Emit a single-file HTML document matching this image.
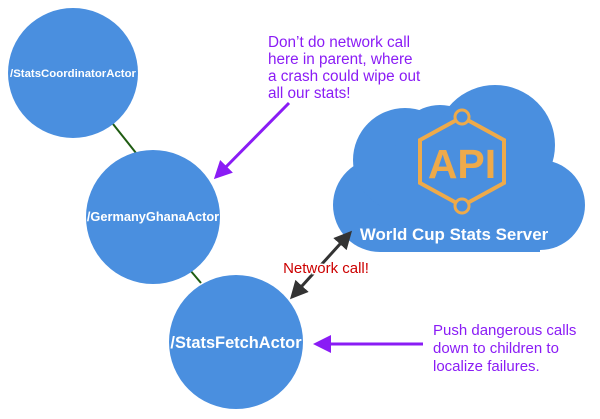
<!DOCTYPE html>
<html><head><meta charset="utf-8"><style>
html,body{margin:0;padding:0;background:#fff;}
svg{display:block;}
text{font-family:"Liberation Sans",sans-serif;}
</style></head><body>
<svg width="600" height="419" viewBox="0 0 600 419">
<defs>
<marker id="pa" markerWidth="6" markerHeight="6" refX="5" refY="3" orient="auto"><path d="M0,0 L6,3 L0,6 Z" fill="#8a1cf5"/></marker>
<marker id="ka" markerWidth="6" markerHeight="6" refX="5" refY="3" orient="auto-start-reverse"><path d="M0,0 L6,3 L0,6 Z" fill="#333"/></marker>
<clipPath id="cc"><rect x="0" y="0" width="600" height="252"/></clipPath>
</defs>
<!-- connectors -->
<line x1="113" y1="124" x2="136" y2="153" stroke="#1f5c12" stroke-width="2"/>
<line x1="190" y1="270" x2="201" y2="283" stroke="#1f5c12" stroke-width="2"/>
<!-- circles -->
<circle cx="73" cy="73" r="65" fill="#4a8fdf"/>
<circle cx="153" cy="217" r="67" fill="#4a8fdf"/>
<circle cx="236" cy="342" r="67" fill="#4a8fdf"/>
<text x="73" y="77" fill="#fff" font-size="11.4" font-weight="bold" text-anchor="middle">/StatsCoordinatorActor</text>
<text x="153" y="221" fill="#fff" font-size="12.8" font-weight="bold" text-anchor="middle">/GermanyGhanaActor</text>
<text x="236" y="348" fill="#fff" font-size="16.4" font-weight="bold" text-anchor="middle">/StatsFetchActor</text>
<!-- cloud -->
<g fill="#4a8fdf" clip-path="url(#cc)">
<circle cx="380" cy="205" r="47"/>
<circle cx="405" cy="160" r="52"/>
<circle cx="440" cy="150" r="45"/>
<circle cx="495" cy="145" r="60"/>
<circle cx="540" cy="205" r="45"/>
<rect x="380" y="150" width="160" height="102"/>
</g>
<g stroke="#eeaa4a" stroke-width="4" fill="none">
<polygon points="462,117 504,140 504,183 462,206 420,183 420,140"/>
</g>
<circle cx="462" cy="117" r="7" fill="#4a8fdf" stroke="#eeaa4a" stroke-width="3"/>
<circle cx="462" cy="206" r="7" fill="#4a8fdf" stroke="#eeaa4a" stroke-width="3"/>
<text x="462" y="178" fill="#eeaa4a" font-size="41" font-weight="bold" text-anchor="middle">API</text>
<text x="454" y="240" fill="#fff" font-size="16.9" font-weight="bold" text-anchor="middle">World Cup Stats Server</text>
<!-- network arrow -->
<line x1="350" y1="233" x2="292" y2="297" stroke="#333" stroke-width="3" marker-start="url(#ka)" marker-end="url(#ka)"/>
<text x="326" y="273" fill="#cc0000" font-size="15" text-anchor="middle" stroke="#fff" stroke-width="3" paint-order="stroke">Network call!</text>
<!-- purple arrows -->
<line x1="289" y1="103" x2="216" y2="177" stroke="#8a1cf5" stroke-width="3" marker-end="url(#pa)"/>
<line x1="423" y1="344" x2="316" y2="344" stroke="#8a1cf5" stroke-width="3" marker-end="url(#pa)"/>
<g fill="#8a1cf5" font-size="15.3">
<text x="268" y="47">Don’t do network call</text>
<text x="268" y="64">here in parent, where</text>
<text x="268" y="81">a crash could wipe out</text>
<text x="268" y="98">all our stats!</text>
</g>
<g fill="#8a1cf5" font-size="15">
<text x="433" y="335">Push dangerous calls</text>
<text x="433" y="353">down to children to</text>
<text x="433" y="371">localize failures.</text>
</g>
</svg>
</body></html>
